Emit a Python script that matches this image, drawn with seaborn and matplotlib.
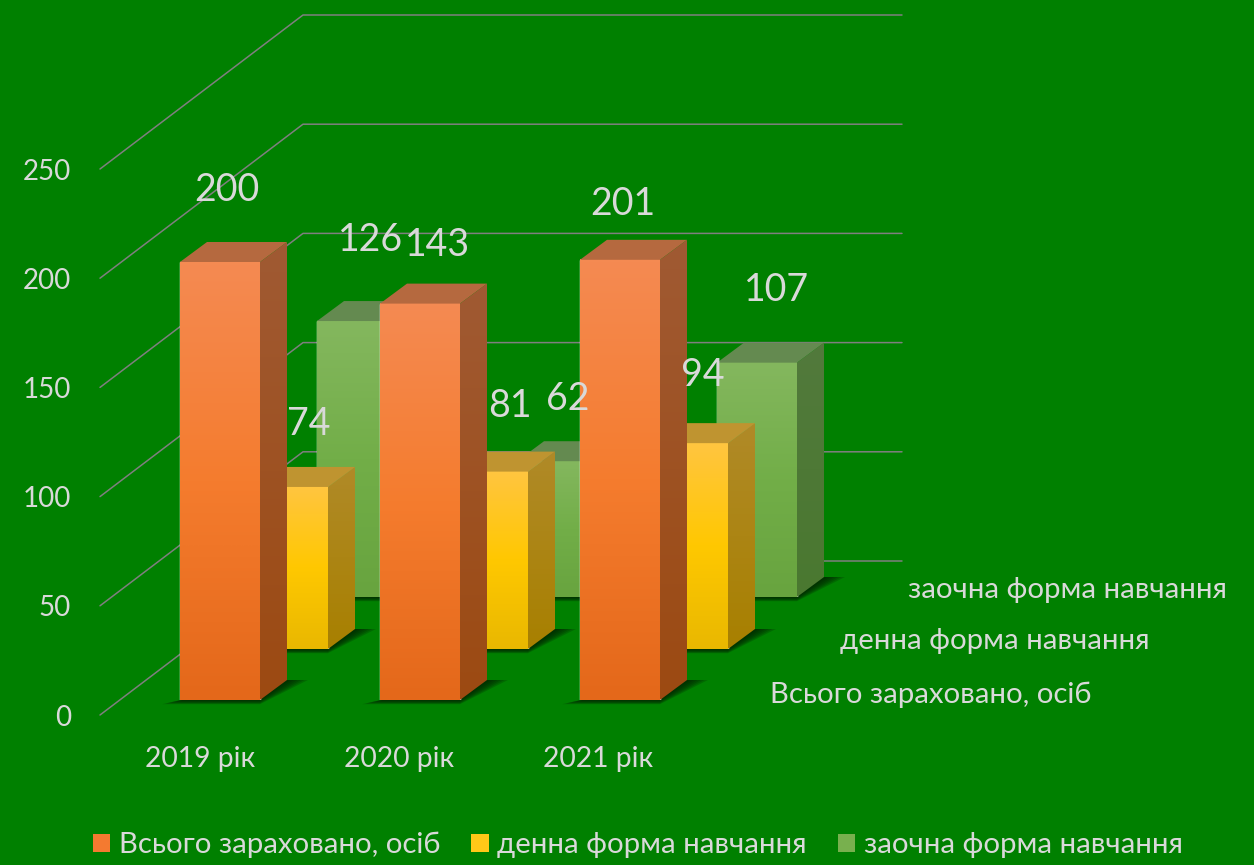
import matplotlib
matplotlib.use("Agg")
import matplotlib.pyplot as plt
from matplotlib.colors import LinearSegmentedColormap
from matplotlib.patches import Patch, Polygon
import numpy as np
import pandas as pd
import seaborn as sns

years = ["2019 рік", "2020 рік", "2021 рік"]
series_names = ["Всього зараховано, осіб", "денна форма навчання", "заочна форма навчання"]

# bar heights as drawn; the middle orange bar is taller than its printed label
total_heights = [200, 181, 201]
fulltime_heights = [74, 81, 94]
parttime_heights = [126, 62, 107]

total_labels = ["200", "143", "201"]
fulltime_labels = ["74", "81", "94"]
parttime_labels = ["126", "62", "107"]

value_ticks = [0, 50, 100, 150, 200, 250]

W, H = 1254, 865
BG = "#008000"
TXT = "#D9D9D9"
GRID = "#7F7F7F"

sns.set_theme(style="white")
plt.rcParams["font.family"] = ["Lato", "Roboto"]


def px_rect(left, right, bottom, top):
    return [left / W, 1 - bottom / H, (right - left) / W, (bottom - top) / H]


def grad(ax, cols, extent, clip=None, z=2):
    cmap = LinearSegmentedColormap.from_list("g", cols)
    im = ax.imshow(np.linspace(0, 1, 128).reshape(-1, 1), cmap=cmap, aspect="auto",
                   extent=extent, origin="upper", zorder=z, interpolation="bilinear")
    if clip is not None:
        clip.set_transform(ax.transData)
        im.set_clip_path(clip)
    return im


fig = plt.figure(figsize=(W / 100, H / 100), dpi=100, facecolor=BG)

# back walls and floor
base = fig.add_axes(px_rect(100, 902, 715, 169), zorder=0)
base.set_xlim(100, 902)
base.set_ylim(0, 250)
base.patch.set_visible(False)
depth = 154 / 2.184
for v in value_ticks:
    base.plot([100, 303, 902], [v, v + depth, v + depth], color=GRID, lw=1.1, clip_on=False)
base.set_yticks(value_ticks)
base.set_xticks([200, 399, 598])
base.set_xticklabels(years)
base.tick_params(axis="y", length=0, pad=21, labelsize=20, labelcolor=TXT)
base.tick_params(axis="x", length=0, pad=22.5, labelsize=20.3, labelcolor=TXT)
sns.despine(ax=base, left=True, bottom=True)

# one axes per row of bars, back row first
rows = [
    dict(h=parttime_heights, shift=137, floor=597, z=1, color="#72AE48",
         front=["#84B75E", "#72AE48", "#68A43F"], side=["#527A3C", "#4A7830"], top="#648A50"),
    dict(h=fulltime_heights, shift=68, floor=649, z=2, color="#FFC800",
         front=["#FFC540", "#FFC800", "#E9B800"], side=["#B08A28", "#A88000"], top="#BF9430"),
    dict(h=total_heights, shift=0, floor=700, z=3, color="#F47A20",
         front=["#F48A52", "#F57C2E", "#E4681A"], side=["#A05A33", "#9C4A12"], top="#B5693F"),
]

sx = 1 / 200
sy = 1 / 2.19
dx, dy = 27 * sx, 20 * sy

for r in rows:
    ax = fig.add_axes(px_rect(120 + r["shift"], 720 + r["shift"], r["floor"],
                              r["floor"] - 250 / sy), zorder=r["z"])
    df = pd.DataFrame({"year": years, "value": r["h"]})
    sns.barplot(data=df, x="year", y="value", color=r["color"], width=0.4, saturation=1, ax=ax)
    for bar in ax.containers[0]:
        x0, x1 = bar.get_x(), bar.get_x() + bar.get_width()
        h = bar.get_height()
        # ground shadow, built up from a few stacked quads
        for k in range(6):
            a = (6 - k) * 1.0 * sx
            b = (6 - k) * 0.7 * sy
            ax.add_patch(Polygon([(x0 - 3 * a, -b), (x1, -b), (x1 + dx + 3.5 * a, dy),
                                  (x1 + dx - 4 * sx, dy)],
                                 closed=True, fc="#002000", ec="none", alpha=0.22,
                                 clip_on=False, zorder=0.5))
        grad(ax, r["front"], [x0, x1, 0, h])
        side = Polygon([(x1, 0), (x1 + dx, dy), (x1 + dx, h + dy), (x1, h)], closed=True)
        grad(ax, r["side"], [x1, x1 + dx, 0, h + dy], clip=side)
        ax.add_patch(Polygon([(x0, h), (x0 + dx, h + dy), (x1 + dx, h + dy), (x1, h)], closed=True,
                             fc=r["top"], ec="none", clip_on=False, zorder=2))
    ax.set_xlim(-0.5, 2.5)
    ax.set_ylim(0, 250)
    ax.axis("off")


def px_text(x, y, s, size):
    fig.text(x / W, 1 - y / H, s, ha="center", va="center", color=TXT, fontsize=size, zorder=10)


# value labels sit where the source deck left them
for xy, s in zip([(227, 190), (438, 245), (623, 204)], total_labels):
    px_text(xy[0], xy[1], s, 27)
for xy, s in zip([(309, 424), (510, 406), (703, 375)], fulltime_labels):
    px_text(xy[0], xy[1], s, 27)
for xy, s in zip([(371, 240), (568, 399), (777, 290)], parttime_labels):
    px_text(xy[0], xy[1], s, 27)

# depth axis names
for xy, s in zip([(931, 695), (995, 641), (1068, 590)], series_names):
    px_text(xy[0], xy[1], s, 21.2)

handles = [Patch(fc=c, ec="none") for c in ["#F47A30", "#FFC818", "#78B04E"]]
fig.legend(handles, series_names, ncols=3, loc="center", bbox_to_anchor=(638 / W, 1 - 845 / H),
           frameon=False, fontsize=21.2, labelcolor=TXT, handlelength=0.58, handleheight=0.58,
           handletextpad=0.3, columnspacing=1.05)

fig.savefig("out.png", dpi=100, facecolor=BG)
